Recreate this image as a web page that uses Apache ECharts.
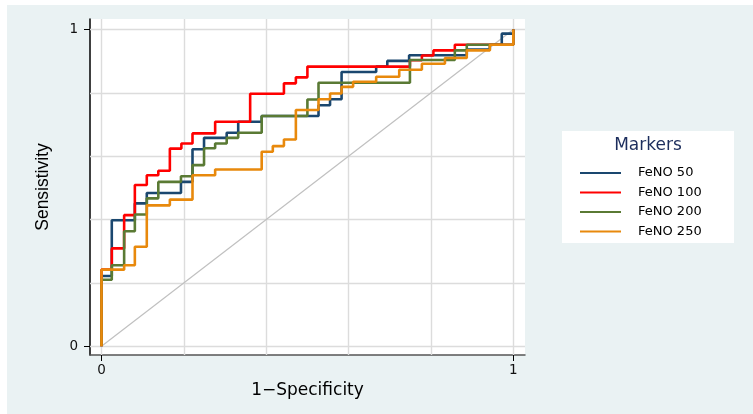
<!DOCTYPE html>
<html>
<head>
<meta charset="utf-8">
<script src="https://cdn.jsdelivr.net/npm/echarts@6/dist/echarts.min.js"></script>
<style>
  html, body { margin: 0; padding: 0; background: #ffffff; }
  #wrap { position: relative; width: 753px; height: 414px; background: #ffffff; overflow: hidden; }
  #chart { position: absolute; left: 7px; top: 5px; width: 746px; height: 409px; }
</style>
</head>
<body>
<div id="wrap"><div id="chart"></div></div>
<script>
// ---- data ----
const seriesNames = ['FeNO 50', 'FeNO 100', 'FeNO 200', 'FeNO 250'];
const gridTicks = [0, 0.2, 0.4, 0.6, 0.8, 1];
const axisTickLabels = [0, 1];
const diagonalX = [0, 1];
const diagonalY = [0, 1];

const feno50Fpr = [0, 0, 0.025, 0.081, 0.110, 0.193, 0.221, 0.249, 0.304, 0.332, 0.389, 0.527, 0.555, 0.583, 0.667, 0.694, 0.747, 0.887, 0.943, 0.972, 1.0];
const feno50Tpr = [0, 0.222, 0.398, 0.451, 0.484, 0.519, 0.622, 0.658, 0.674, 0.709, 0.727, 0.761, 0.780, 0.866, 0.883, 0.901, 0.919, 0.937, 0.952, 0.987, 1.0];

const feno100Fpr = [0, 0, 0.025, 0.055, 0.081, 0.110, 0.138, 0.166, 0.194, 0.221, 0.276, 0.361, 0.443, 0.472, 0.500, 0.749, 0.778, 0.806, 0.858, 1.0];
const feno100Tpr = [0, 0.242, 0.309, 0.414, 0.509, 0.540, 0.554, 0.624, 0.640, 0.672, 0.709, 0.797, 0.830, 0.849, 0.883, 0.903, 0.918, 0.934, 0.952, 1.0];

const feno200Fpr = [0, 0, 0.025, 0.055, 0.081, 0.110, 0.138, 0.193, 0.221, 0.249, 0.276, 0.304, 0.332, 0.389, 0.500, 0.527, 0.749, 0.858, 0.887, 1.0];
const feno200Tpr = [0, 0.210, 0.256, 0.363, 0.416, 0.467, 0.519, 0.537, 0.572, 0.625, 0.640, 0.658, 0.674, 0.727, 0.779, 0.832, 0.904, 0.934, 0.952, 1.0];

const feno250Fpr = [0, 0, 0.055, 0.081, 0.110, 0.166, 0.221, 0.276, 0.389, 0.416, 0.443, 0.472, 0.527, 0.555, 0.583, 0.611, 0.667, 0.723, 0.778, 0.834, 0.887, 0.943, 1.0];
const feno250Tpr = [0, 0.242, 0.256, 0.314, 0.445, 0.463, 0.540, 0.558, 0.614, 0.632, 0.653, 0.746, 0.780, 0.798, 0.819, 0.835, 0.851, 0.873, 0.892, 0.910, 0.934, 0.952, 1.0];

// ---- styling ----
const colors = ['#1a476f', '#ff0000', '#5a7a34', '#e8890c'];
const zip = (xs, ys) => xs.map((x, i) => [x, ys[i]]);
const curves = [
  zip(feno50Fpr, feno50Tpr),
  zip(feno100Fpr, feno100Tpr),
  zip(feno200Fpr, feno200Tpr),
  zip(feno250Fpr, feno250Tpr)
];

const chart = echarts.init(document.getElementById('chart'), null, { renderer: 'canvas' });

const curveSeries = curves.map((d, i) => ({
  name: seriesNames[i],
  type: 'line',
  step: 'end',
  data: d,
  symbol: 'none',
  showSymbol: false,
  z: 3 + i,
  lineStyle: { color: colors[i], width: 2.6 },
  itemStyle: { color: colors[i] },
  silent: true
}));

const option = {
  animation: false,
  backgroundColor: '#eaf2f3',
  grid: {
    left: 83, top: 14, width: 435, height: 336,
    show: true, backgroundColor: '#ffffff', borderWidth: 0
  },
  xAxis: {
    type: 'value',
    min: -0.0279, max: 1.0284,
    position: 'bottom',
    name: '1\u2212Specificity',
    nameLocation: 'middle',
    nameGap: 25,
    nameTextStyle: { fontFamily: 'DejaVu Sans', fontSize: 17, color: '#000' },
    axisLine: { show: true, onZero: false, lineStyle: { color: '#555', width: 1.5 } },
    axisTick: { show: true, customValues: axisTickLabels, length: 6, lineStyle: { color: '#000', width: 1 } },
    axisLabel: { show: true, customValues: axisTickLabels, margin: 8, fontFamily: 'DejaVu Sans', fontSize: 13.5, color: '#111',
      formatter: v => String(v) },
    splitLine: { show: false }
  },
  yAxis: {
    type: 'value',
    min: -0.0275, max: 1.0332,
    position: 'left',
    name: 'Sensistivity',
    nameLocation: 'middle',
    nameRotate: 90,
    nameGap: 38,
    nameTextStyle: { fontFamily: 'Liberation Sans', fontSize: 17.5, color: '#000' },
    axisLine: { show: true, onZero: false, lineStyle: { color: '#000', width: 1.5 } },
    axisTick: { show: true, customValues: axisTickLabels, length: 6, lineStyle: { color: '#000', width: 1 } },
    axisLabel: { show: true, customValues: axisTickLabels, margin: 12, fontFamily: 'DejaVu Sans', fontSize: 13.5, color: '#111',
      formatter: v => String(v) },
    splitLine: { show: false }
  },
  legend: {
    data: seriesNames,
    orient: 'vertical',
    left: 573,
    top: 161,
    padding: 0,
    icon: 'rect',
    itemWidth: 41,
    itemHeight: 2,
    itemGap: 5.5,
    selectedMode: false,
    textStyle: { fontFamily: 'DejaVu Sans', fontSize: 13, color: '#000', padding: [0, 0, 0, 12], lineHeight: 14 }
  },
  graphic: [
    { type: 'rect', left: 555, top: 126, shape: { width: 172, height: 112 }, style: { fill: '#ffffff' }, z: 0, silent: true },
    { type: 'text', x: 641, y: 141, z: 1, silent: true,
      style: { text: 'Markers', fontFamily: 'DejaVu Sans', fontSize: 17, fill: '#1c2d5c', align: 'center', verticalAlign: 'middle' } }
  ],
  series: [
    {
      name: 'reference',
      type: 'line',
      data: zip(diagonalX, diagonalY),
      symbol: 'none',
      z: 2,
      silent: true,
      lineStyle: { color: '#c0c0c0', width: 1.2 },
      markLine: {
        z: 1,
        silent: true,
        symbol: ['none', 'none'],
        label: { show: false },
        lineStyle: { color: '#dcdcdc', width: 1.4, type: 'solid' },
        data: gridTicks.map(v => ({ xAxis: v })).concat(gridTicks.map(v => ({ yAxis: v })))
      }
    }
  ].concat(curveSeries)
};

chart.setOption(option);
</script>
</body>
</html>
